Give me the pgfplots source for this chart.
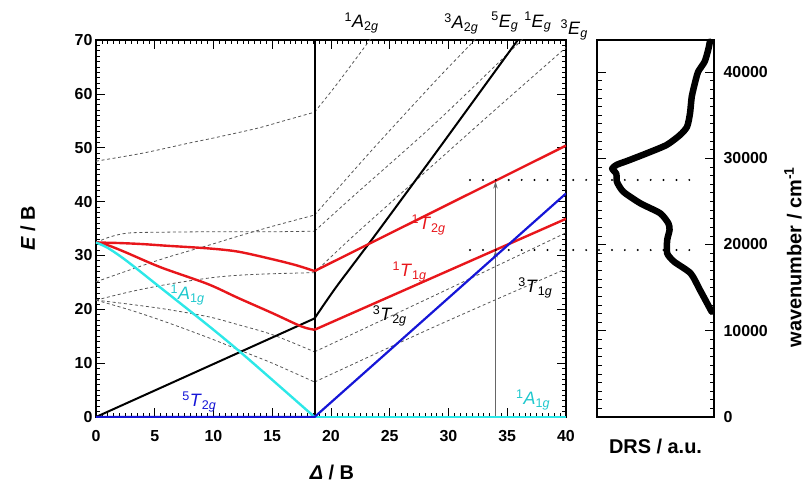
\documentclass[border=0pt]{standalone}
\usepackage{pgfplots}
\pgfplotsset{compat=1.18}
\usepackage{fontspec}
\setmainfont{Liberation Sans}
\usetikzlibrary{arrows.meta}
\definecolor{tsred}{RGB}{232,22,27}
\definecolor{tsblue}{RGB}{22,22,215}
\definecolor{tscyan}{RGB}{45,232,232}
\definecolor{tscyanlab}{RGB}{30,200,205}
\definecolor{dashgray}{RGB}{85,85,85}
\newcommand{\term}[3]{\textsuperscript{#1}\textit{#2}\textsubscript{#3\textit{g}}}
\newcommand{\tfont}{\fontsize{18}{18}\selectfont}
\pgfplotsset{
  dashln/.style={dashgray, line width=0.8bp, dash pattern=on 3bp off 2.6bp, smooth, tension=0.5},
}
\begin{document}
\begin{tikzpicture}
\begin{axis}[
  name=main,
  at={(0,0)}, anchor=south west,
  width=470bp, height=377bp, scale only axis,
  xmin=0, xmax=40, ymin=0, ymax=70,
  xtick={0,5,...,40}, ytick={0,10,...,70},
  minor x tick num=9, minor y tick num=9,
  tick align=inside,
  major tick length=9bp, minor tick length=4.5bp,
  tick style={black, line width=0.7bp},
  axis line style={line width=1.1bp},
  clip mode=individual,
  no markers,
  /pgf/number format/assume math mode=true,
  tick label style={font=\fontsize{16}{16}\selectfont\bfseries},
  xticklabel style={yshift=-10bp},
  xlabel={\textit{Δ} / B}, ylabel={\textit{E} / B},
  label style={font=\fontsize{20}{20}\selectfont\bfseries},
  xlabel style={at={(axis description cs:0.502,-0.166)}, anchor=base},
  ylabel style={at={(axis description cs:-0.145,0.5)}, anchor=center},
]
% dashed gray terms: weak-field part
\addplot[dashln] coordinates {(0,47.5)(4,49.0)(8,50.9)(10,51.8)(13.7,53.6)(16,55.0)(18.6,56.6)};
\addplot[dashln] coordinates {(0,32.4)(1,33.3)(2,33.9)(3,34.2)(5,34.3)(10,34.4)(15,34.4)(18.6,34.5)};
\addplot[dashln] coordinates {(0,25.1)(3,27.4)(6,29.6)(9.6,31.9)(12,33.5)(15,35.4)(18.6,37.5)};
\addplot[dashln] coordinates {(0,21.7)(3,23.3)(6,24.6)(9.6,25.8)(12,26.3)(15,26.6)(18.6,26.8)};
\addplot[dashln] coordinates {(0,21.7)(3,20.9)(6,20.0)(9.6,18.6)(12,17.2)(15,15.3)(18.6,12.1)};
\addplot[dashln] coordinates {(0,21.7)(3,19.8)(6,17.6)(9.6,14.7)(12,12.6)(15,10.0)(18.6,6.5)};
% dashed gray terms: strong-field part
\addplot[dashln] coordinates {(18.6,56.6)(20.5,61.8)(23.3,70)(23.6,71)};
\addplot[dashln] coordinates {(18.6,34.5)(22,41.2)(28.85,54.5)(36.1,69.7)(36.6,71)};
\addplot[dashln] coordinates {(18.6,37.5)(23.5,49.6)(28.85,62.3)(32.1,69.7)(32.6,71)};
\addplot[dashln] coordinates {(18.6,26.8)(22,33.8)(28.85,47.1)(34,57.1)(40,68.6)};
\addplot[dashln] coordinates {(18.6,12.1)(28.85,22.6)(40,34.2)};
\addplot[dashln] coordinates {(18.6,6.5)(28.85,16.8)(40,27.5)};
% vertical crossover line
\addplot[black, line width=2bp] coordinates {(18.6,0)(18.6,70)};
% arrows at Delta = 34
\addplot[black!60, line width=0.8bp, -{Stealth[length=7bp,width=4.5bp]}] coordinates {(34,0)(34,43.7)};
\addplot[black!60, line width=0.8bp, -{Stealth[length=7bp,width=4.5bp]}] coordinates {(34,0)(34,30.9)};
% solid terms
\addplot[black, line width=2bp] coordinates {(0,0)(18.6,18.3)};
\addplot[black, line width=2bp, smooth, tension=0.4] coordinates {(18.6,18.3)(19.0,19.6)(19.5,21.2)(20.6,24.6)(23.5,33.0)(26,40.4)(29.3,50.2)(35.9,70)(36.3,71.2)};
\addplot[tsred, line width=2.4bp, smooth, tension=0.5] coordinates {(0,32.4)(2,32.3)(4,32.1)(6,31.8)(9.6,31.3)(12.1,30.7)(15,29.3)(17,28.2)(18.6,27.1)};
\addplot[tsred, line width=2.4bp] coordinates {(18.6,27.1)(40,50.4)};
\addplot[tsred, line width=2.4bp, smooth, tension=0.5] coordinates {(0,32.4)(1,31.9)(2.5,30.6)(5.5,27.8)(9.5,24.7)(12.1,22.1)(15,19.3)(17.5,16.8)(18.6,16.2)};
\addplot[tsred, line width=2.4bp] coordinates {(18.6,16.2)(40,36.8)};
\addplot[tscyan, line width=2.4bp, smooth, tension=0.5] coordinates {(0,32.4)(1,31.4)(2.6,29.0)(5.5,24.0)(9.6,16.9)(12.26,12.1)(15,6.9)(18.6,0)};
\addplot[tscyan, line width=2.4bp] coordinates {(18.6,0)(40,0)};
\addplot[tsblue, line width=2.2bp] coordinates {(0,0)(18.6,0)(40,41.5)};
% labels
\node[font=\tfont] at (axis cs:22.6,73.2) {\term{1}{A}{2}};
\node[font=\tfont] at (axis cs:31.1,73.0) {\term{3}{A}{2}};
\node[font=\tfont] at (axis cs:34.8,73.3) {\term{5}{E}{}};
\node[font=\tfont] at (axis cs:37.6,73.3) {\term{1}{E}{}};
\node[font=\tfont] at (axis cs:40.7,71.9) {\term{3}{E}{}};
\node[font=\tfont, text=tsred] at (axis cs:28.3,35.6) {\term{1}{T}{2}};
\node[font=\tfont, text=tsred] at (axis cs:26.7,26.9) {\term{1}{T}{1}};
\node[font=\tfont] at (axis cs:25.0,18.8) {\term{3}{T}{2}};
\node[font=\tfont] at (axis cs:37.4,24.0) {\term{3}{T}{1}};
\node[font=\tfont, text=tscyanlab] at (axis cs:37.2,3.2) {\term{1}{A}{1}};
\node[font=\tfont, text=tscyanlab] at (axis cs:7.8,22.7) {\term{1}{A}{1}};
\node[font=\tfont, text=tsblue] at (axis cs:8.8,2.8) {\term{5}{T}{2}};
\end{axis}
\begin{axis}[
  name=drs,
  at={(501bp,0)}, anchor=south west,
  width=117bp, height=377bp, scale only axis,
  xmin=0, xmax=1, ymin=0, ymax=43710,
  xtick=\empty,
  ytick={0,10000,...,40000},
  minor y tick num=9,
  yticklabel pos=right,
  scaled y ticks=false,
  /pgf/number format/1000 sep={},
  /pgf/number format/assume math mode=true,
  tick align=inside,
  major tick length=9bp, minor tick length=4.5bp,
  tick style={black, line width=0.7bp},
  axis line style={line width=1.1bp},
  tick label style={font=\fontsize{16}{16}\selectfont\bfseries},
  yticklabel style={xshift=6bp},
  clip=false,
  no markers,
  ylabel={wavenumber / cm\textsuperscript{-1}},
  xlabel={DRS / a.u.},
  label style={font=\fontsize{20}{20}\selectfont\bfseries},
  ylabel style={at={(axis description cs:1.675,0.424)}, anchor=center},
  xlabel style={at={(axis description cs:0.5,-0.077)}, anchor=center},
]
\addplot[black, line width=2.2bp, line cap=round, dash pattern=on 0bp off 12.9bp] coordinates {(-1.085,27480)(0.897,27480)};
\addplot[black, line width=2.2bp, line cap=round, dash pattern=on 0bp off 12.9bp] coordinates {(-1.085,19360)(0.897,19360)};
\addplot[black, line width=6.5bp, line join=round, line cap=round, smooth, tension=0.4] coordinates {
(0.98,12210)(0.88,14725)(0.80,16660)(0.66,18000)(0.60,18980)(0.60,20520)(0.62,21680)(0.61,22460)(0.54,23620)(0.37,24780)(0.225,26120)(0.17,27280)(0.165,28200)(0.13,28800)(0.17,29250)(0.26,29700)(0.425,30570)(0.595,31540)(0.71,32700)(0.77,33660)(0.795,35210)(0.81,37140)(0.84,38880)(0.865,40040)(0.92,41200)(0.95,42550)(0.965,43510)};
\end{axis}
\pgfresetboundingbox
\path[use as bounding box] ([shift={(-96bp,-67bp)}]main.south west) rectangle ([shift={(711bp,417bp)}]main.south west);
\end{tikzpicture}
\end{document}
